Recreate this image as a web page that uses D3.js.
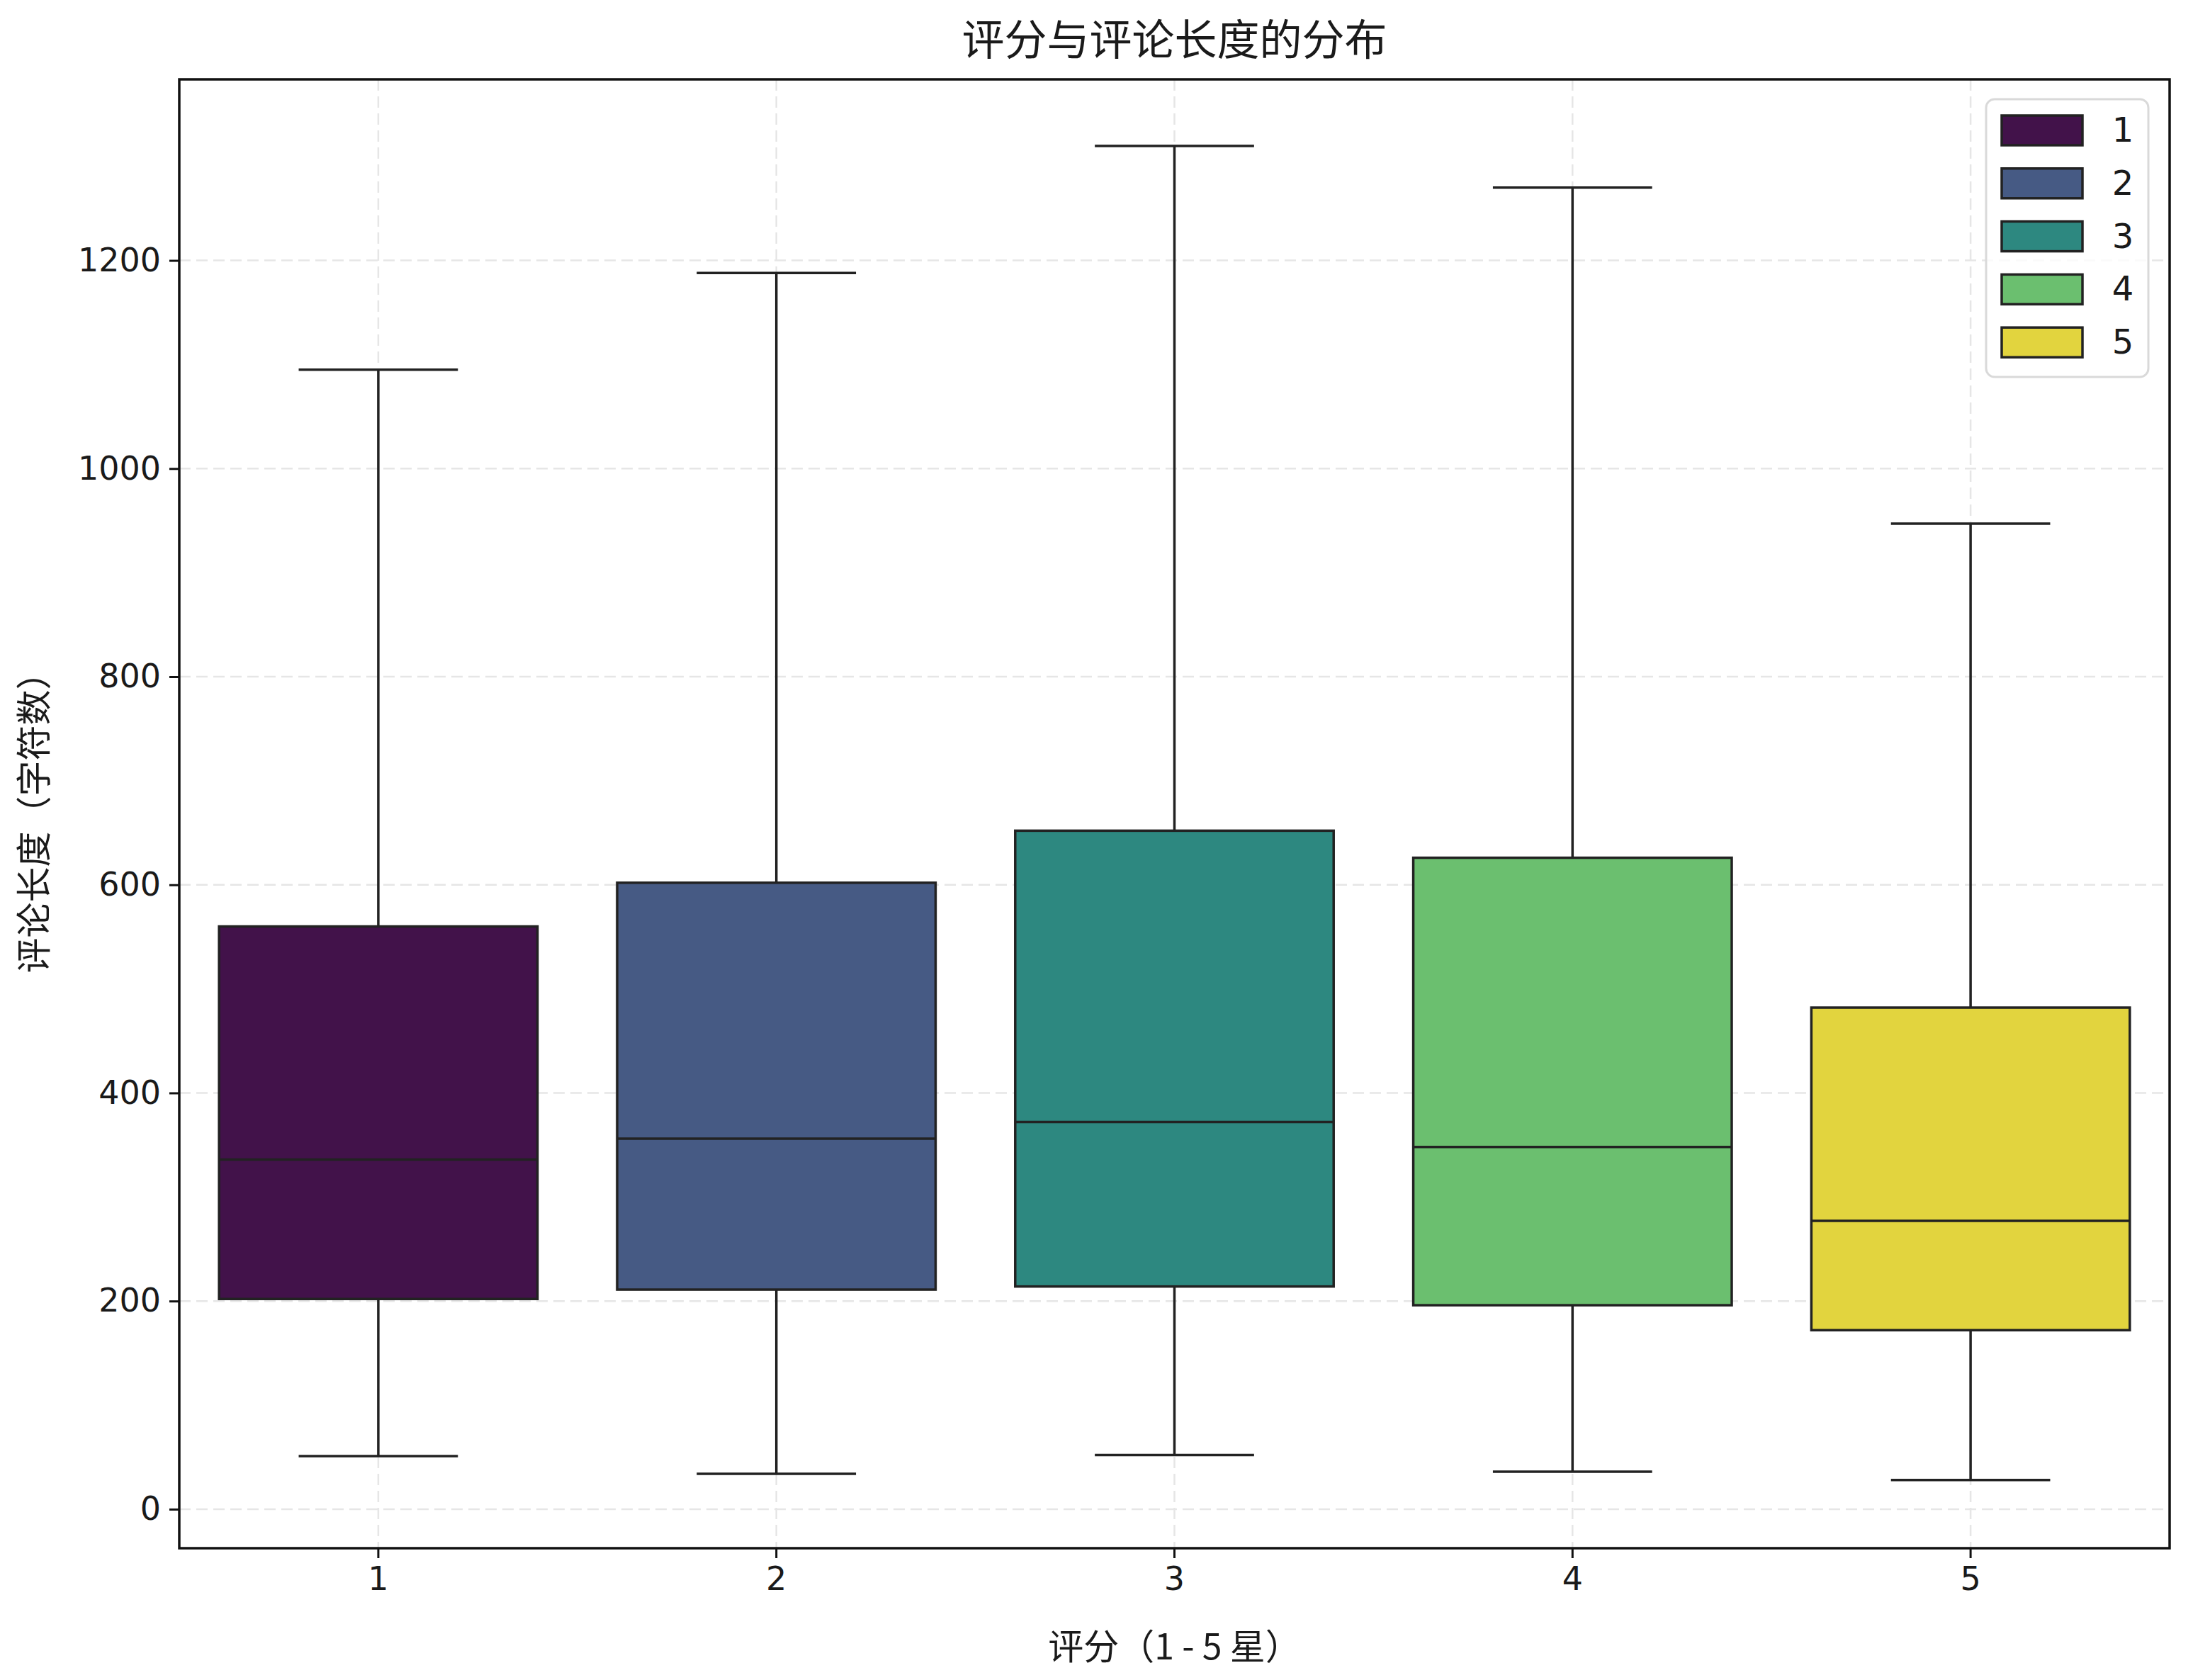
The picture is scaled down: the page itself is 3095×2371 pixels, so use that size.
<!DOCTYPE html>
<html>
<head>
<meta charset="utf-8">
<script src="https://cdn.jsdelivr.net/npm/d3@7"></script>
<style>
  body { margin: 0; background: #fff; }
  text { font-family: "Noto Sans CJK SC", "DejaVu Sans", sans-serif; fill: #1a1a1a; }
</style>
</head>
<body>
<svg id="chart" width="3095" height="2371"></svg>
<script>
var ratings = ['1', '2', '3', '4', '5'];
var whiskLow = [51, 34, 52, 36, 28];
var q1 = [202, 211, 214, 196, 172];
var medians = [336, 356, 372, 348, 277];
var q3 = [560, 602, 652, 626, 482];
var whiskHigh = [1095, 1188, 1310, 1270, 947];
var colors = ['#42124a', '#465a84', '#2d8880', '#6bbf6f', '#e2d43e'];
var yTicks = [0, 200, 400, 600, 800, 1000, 1200];

var svg = d3.select('#chart');
var pLeft = 253, pRight = 3062, pTop = 112, pBottom = 2185;

var x = d3.scaleBand().domain(ratings).range([pLeft, pRight]).padding(0);
var y = d3.scaleLinear().domain([-37.5, 1374]).range([pBottom, pTop]);

var boxes = ratings.map(function (r, i) {
  return { r: r, lo: whiskLow[i], q1: q1[i], med: medians[i], q3: q3[i], hi: whiskHigh[i], color: colors[i] };
});

// grid
var grid = svg.append('g');
grid.selectAll('.gy').data(yTicks).enter().append('line')
  .attr('x1', pLeft).attr('x2', pRight)
  .attr('y1', function (d) { return y(d); }).attr('y2', function (d) { return y(d); })
  .attr('stroke', '#e6e6e6').attr('stroke-width', 2.5).attr('stroke-dasharray', '16,8');
grid.selectAll('.gx').data(ratings).enter().append('line')
  .attr('y1', pTop).attr('y2', pBottom)
  .attr('x1', function (d) { return x(d) + x.bandwidth() / 2; })
  .attr('x2', function (d) { return x(d) + x.bandwidth() / 2; })
  .attr('stroke', '#e6e6e6').attr('stroke-width', 2.5).attr('stroke-dasharray', '16,8');

var bw = x.bandwidth() * 0.8;
var g = svg.append('g').selectAll('g').data(boxes).enter().append('g')
  .attr('transform', function (d) { return 'translate(' + (x(d.r) + x.bandwidth() / 2) + ',0)'; });

g.append('line').attr('x1', 0).attr('x2', 0)
  .attr('y1', function (d) { return y(d.hi); }).attr('y2', function (d) { return y(d.q3); })
  .attr('stroke', '#222').attr('stroke-width', 3.5);
g.append('line').attr('x1', 0).attr('x2', 0)
  .attr('y1', function (d) { return y(d.q1); }).attr('y2', function (d) { return y(d.lo); })
  .attr('stroke', '#222').attr('stroke-width', 3.5);
['hi', 'lo'].forEach(function (k) {
  g.append('line').attr('x1', -bw / 4).attr('x2', bw / 4)
    .attr('y1', function (d) { return y(d[k]); }).attr('y2', function (d) { return y(d[k]); })
    .attr('stroke', '#222').attr('stroke-width', 3.5);
});
g.append('rect').attr('x', -bw / 2).attr('width', bw)
  .attr('y', function (d) { return y(d.q3); })
  .attr('height', function (d) { return y(d.q1) - y(d.q3); })
  .attr('fill', function (d) { return d.color; })
  .attr('stroke', '#222').attr('stroke-width', 3.5);
g.append('line').attr('x1', -bw / 2).attr('x2', bw / 2)
  .attr('y1', function (d) { return y(d.med); }).attr('y2', function (d) { return y(d.med); })
  .attr('stroke', '#222').attr('stroke-width', 3.5);

// axes
var xAxis = svg.append('g').attr('transform', 'translate(0,' + pBottom + ')')
  .call(d3.axisBottom(x).tickSize(14).tickPadding(12));
var yAxis = svg.append('g').attr('transform', 'translate(' + pLeft + ',0)')
  .call(d3.axisLeft(y).tickValues(yTicks).tickFormat(d3.format('d')).tickSize(14).tickPadding(12));
[xAxis, yAxis].forEach(function (a) {
  a.select('.domain').remove();
  a.selectAll('line').attr('stroke', '#111').attr('stroke-width', 3);
  a.selectAll('text').style('font-size', '46px').attr('fill', '#1a1a1a')
    .style('font-family', '"DejaVu Sans", sans-serif');
});
svg.append('rect').attr('x', pLeft).attr('y', pTop)
  .attr('width', pRight - pLeft).attr('height', pBottom - pTop)
  .attr('fill', 'none').attr('stroke', '#111').attr('stroke-width', 3.5);

// labels
svg.append('text').attr('x', (pLeft + pRight) / 2).attr('y', 78)
  .attr('text-anchor', 'middle').style('font-size', '60px').text('评分与评论长度的分布');
svg.append('text').attr('x', (pLeft + pRight) / 2).attr('y', 2342)
  .attr('text-anchor', 'middle').style('font-size', '50px').style('white-space', 'pre')
  .text('评分（1 - 5 星）');
svg.append('text').attr('transform', 'translate(66,' + ((pTop + pBottom) / 2) + ') rotate(-90)')
  .attr('text-anchor', 'middle').style('font-size', '50px').text('评论长度（字符数）');

// legend
var lg = svg.append('g');
lg.append('rect').attr('x', 2803).attr('y', 140).attr('width', 229).attr('height', 392)
  .attr('rx', 12).attr('fill', 'rgba(255,255,255,0.8)').attr('stroke', '#d9d9d9').attr('stroke-width', 3);
var li = lg.selectAll('.li').data(boxes).enter().append('g')
  .attr('transform', function (d, i) { return 'translate(0,' + (184 + i * 74.8) + ')'; });
li.append('rect').attr('x', 2825).attr('y', -21).attr('width', 114).attr('height', 42)
  .attr('fill', function (d) { return d.color; }).attr('stroke', '#222').attr('stroke-width', 3.5);
li.append('text').attr('x', 2996).attr('y', 16).attr('text-anchor', 'middle')
  .style('font-size', '48px').style('font-family', '"DejaVu Sans", sans-serif')
  .text(function (d) { return d.r; });
</script>
</body>
</html>
